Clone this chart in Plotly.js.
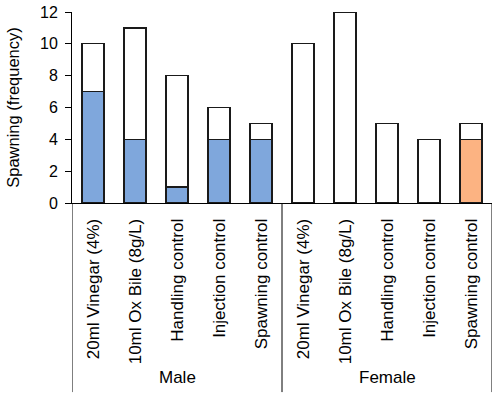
<!DOCTYPE html>
<html>
<head>
<meta charset="utf-8">
<script src="https://cdn.plot.ly/plotly-3.0.1.min.js"></script>
<style>html,body{margin:0;padding:0;background:#fff;}#chart{width:500px;height:394px;}</style>
</head>
<body>
<div id="chart"></div>
<script>
// ---- data ----
var treatments = ['20ml Vinegar (4%)', '10ml Ox Bile (8g/L)', 'Handling control', 'Injection control', 'Spawning control'];
var groups = ['Male', 'Female'];
var maleSpawned = [7, 4, 1, 4, 4];
var maleTotal = [10, 11, 8, 6, 5];
var femaleSpawned = [null, null, null, null, 4];
var femaleTotal = [10, 12, 5, 4, 5];
var yTicks = [0, 2, 4, 6, 8, 10, 12];

// ---- build ----
var n = treatments.length;
var xs = [], labels = [], spawned = [], rest = [], fill = [];
for (var i = 0; i < n; i++) {
  xs.push(i); labels.push(treatments[i]);
  spawned.push(maleSpawned[i]);
  rest.push(maleTotal[i] - (maleSpawned[i] || 0));
  fill.push('#7FA7DC');
}
for (var j = 0; j < n; j++) {
  xs.push(n + j); labels.push(treatments[j]);
  spawned.push(femaleSpawned[j]);
  rest.push(femaleTotal[j] - (femaleSpawned[j] || 0));
  fill.push('#FCB382');
}
var font = 'Liberation Sans, Arial, sans-serif';

var traces = [
  {type: 'bar', x: xs, y: spawned, marker: {color: fill, line: {color: '#1a1a1a', width: 1.2}}, hoverinfo: 'y', showlegend: false},
  {type: 'bar', x: xs, y: rest, marker: {color: '#ffffff', line: {color: '#1a1a1a', width: 1.2}}, hoverinfo: 'y', showlegend: false}
];

var shapes = [];
[-0.5, n - 0.5, 2 * n - 0.5].forEach(function (b) {
  shapes.push({type: 'line', xref: 'x', yref: 'paper', x0: b, x1: b, y0: 0, y1: -0.99, line: {color: '#000', width: 1}});
});
var annotations = groups.map(function (g, k) {
  return {text: g, xref: 'x', yref: 'paper', x: k * n + (n - 1) / 2, y: -0.916, xanchor: 'center', yanchor: 'middle', showarrow: false, font: {family: font, size: 17, color: '#000'}};
});

var layout = {
  width: 500, height: 394,
  margin: {l: 72, r: 8, t: 12, b: 191},
  paper_bgcolor: '#fff', plot_bgcolor: '#fff',
  barmode: 'stack', bargap: 0.48,
  font: {family: font, color: '#000'},
  xaxis: {
    range: [-0.5, 2 * n - 0.5], tickmode: 'array', tickvals: xs, ticktext: labels,
    tickangle: -90, ticks: '', showgrid: false, zeroline: false,
    showline: true, linecolor: '#000', linewidth: 1,
    tickfont: {family: font, size: 17, color: '#000'}, ticklabelstandoff: 8, fixedrange: true
  },
  yaxis: {
    range: [0, 12], tickmode: 'array', tickvals: yTicks, ticks: 'outside', ticklen: 6, tickcolor: '#000',
    showgrid: false, zeroline: false, showline: true, linecolor: '#000', linewidth: 1,
    tickfont: {family: font, size: 16, color: '#000'}, ticklabelstandoff: 4,
    title: {text: 'Spawning (frequency)', font: {family: font, size: 16.5, color: '#000'}, standoff: 16}
  },
  shapes: shapes,
  annotations: annotations
};
Plotly.newPlot('chart', traces, layout, {displayModeBar: false, staticPlot: true});
</script>
</body>
</html>
